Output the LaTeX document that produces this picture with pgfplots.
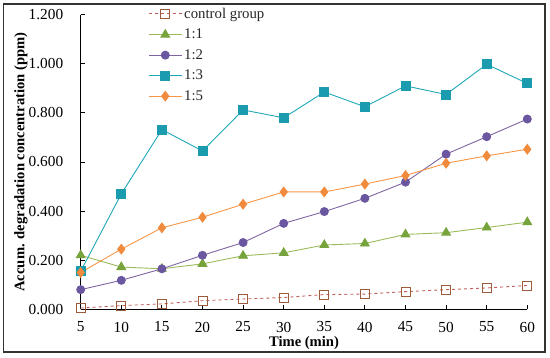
\documentclass[border=0pt]{standalone}
\usepackage{pgfplots}
\pgfplotsset{compat=1.18}
\usepackage{fontspec}
\setmainfont{Liberation Serif}
\definecolor{ctrlL}{HTML}{C0605A}
\definecolor{ctrlM}{HTML}{9C5B3B}
\definecolor{gL}{HTML}{9BBB59}
\definecolor{gM}{HTML}{77A33C}
\definecolor{pL}{HTML}{8064A2}
\definecolor{pM}{HTML}{6B56A0}
\definecolor{tL}{HTML}{20A8B8}
\definecolor{tM}{HTML}{1A9BAE}
\definecolor{oL}{HTML}{F79646}
\definecolor{oM}{HTML}{F08A3C}
\begin{document}
\begin{tikzpicture}
\begin{axis}[
  at={(0,0)}, anchor=south west,
  scale only axis, width=446.6pt, height=294.6pt,
  xmin=5, xmax=60, ymin=0, ymax=1.2,
  axis lines=left, axis line style={-, line width=0.9pt},
  tick align=inside, major tick length=4pt,
  tick style={line width=0.8pt, black},
  xtick={5,10,...,60}, ytick={0,0.2,...,1.2},
  y tick label style={/pgf/number format/fixed, /pgf/number format/fixed zerofill, /pgf/number format/precision=3},
  /pgf/number format/assume math mode=true,
  ticklabel style={font=\fontsize{15.3}{17}\selectfont},
  xticklabel style={yshift=-9pt},
  yticklabel style={xshift=-14pt},
  xlabel={\textbf{Time (min)}},
  ylabel={\textbf{Accum. degradation concentration (ppm)}},
  label style={font=\fontsize{14.6}{16}\selectfont},
  xlabel style={at={(axis description cs:0.5,0)}, anchor=center, yshift=-34pt},
  ylabel style={at={(axis description cs:-0.134,0.5)}, anchor=center},
  clip=false,
  legend style={at={(axis description cs:0.151,1.03)}, anchor=north west, draw=none, fill=none,
    font=\fontsize{14.8}{16}\selectfont, row sep=5.2pt, inner sep=0pt, text=black!85},
  legend cell align=left,
  legend image code/.code={\draw[mark repeat=2, mark phase=2] plot coordinates {(0pt,0pt) (16.5pt,0pt) (33pt,0pt)};},
  every axis plot/.append style={line width=0.9pt},
]
\addplot[ctrlL, dashed, mark=square, mark size=4.5pt, mark options={solid, draw=ctrlM, fill=white, line width=0.9pt}]
 coordinates {(5,0.005) (10,0.015) (15,0.022) (20,0.035) (25,0.042) (30,0.048) (35,0.060) (40,0.062) (45,0.072) (50,0.080) (55,0.087) (60,0.097)};
\addlegendentry{control group}
\addplot[gL, mark=triangle*, mark size=5pt, mark options={fill=gM, draw=gM}]
 coordinates {(5,0.220) (10,0.172) (15,0.165) (20,0.185) (25,0.218) (30,0.230) (35,0.262) (40,0.268) (45,0.305) (50,0.312) (55,0.333) (60,0.355)};
\addlegendentry{1:1}
\addplot[pL, mark=*, mark size=4pt, mark options={fill=pM, draw=pM}]
 coordinates {(5,0.080) (10,0.118) (15,0.165) (20,0.220) (25,0.272) (30,0.350) (35,0.398) (40,0.452) (45,0.518) (50,0.632) (55,0.703) (60,0.775)};
\addlegendentry{1:2}
\addplot[tL, mark=square*, mark size=4.5pt, mark options={fill=tM, draw=tM}]
 coordinates {(5,0.155) (10,0.470) (15,0.732) (20,0.645) (25,0.812) (30,0.780) (35,0.885) (40,0.825) (45,0.910) (50,0.875) (55,0.998) (60,0.920)};
\addlegendentry{1:3}
\addplot[oL, mark=diamond*, mark size=4.8pt, mark options={fill=oM, draw=oM}]
 coordinates {(5,0.150) (10,0.245) (15,0.332) (20,0.375) (25,0.428) (30,0.478) (35,0.478) (40,0.510) (45,0.545) (50,0.595) (55,0.625) (60,0.652)};
\addlegendentry{1:5}
\end{axis}
\draw[line width=1.2pt, black!80] (-77.2pt,-42.7pt) rectangle (464.3pt,305.3pt);
\pgfresetboundingbox
\path[use as bounding box] (-80.7pt,-48.7pt) rectangle (469.3pt,309.3pt);
\end{tikzpicture}
\end{document}
